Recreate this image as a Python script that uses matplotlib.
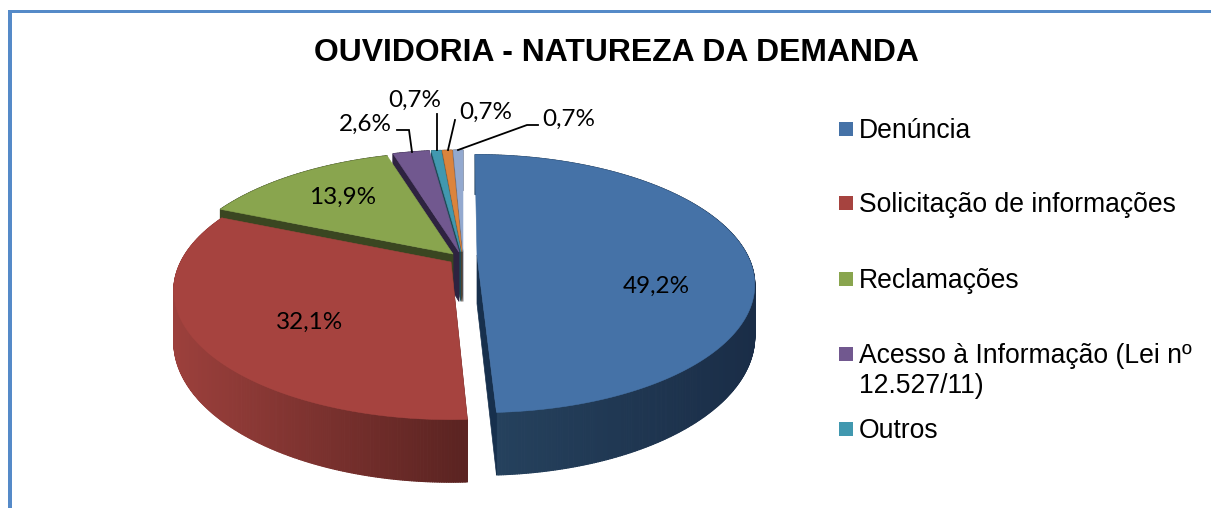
import numpy as np
import matplotlib
matplotlib.use("Agg")
import matplotlib.pyplot as plt
from matplotlib.collections import PolyCollection
from matplotlib.colors import to_rgb
from matplotlib.patches import Polygon, Rectangle

title = "OUVIDORIA - NATUREZA DA DEMANDA"
categories = [
    "Denúncia",
    "Solicitação de informações",
    "Reclamações",
    "Acesso à Informação (Lei nº\n12.527/11)",
    "Outros",
]
values = [49.2, 32.1, 13.9, 2.6, 0.7, 0.7, 0.7]

# slice look and where each piece sits, in pixels of the reference
colors = ["#4572a7", "#a6433f", "#89a54e", "#71588f", "#4198af", "#db843d", "#93a9cf"]
edge_colors = ["#17304d", "#5c2422", "#3a4621", "#2e2340", "#1e4a55", "#6b3f1c", "#46526a"]
wall_left = ["#26435f", "#9c403c", "#3a4621", "#2e2340", "#1e4a55", "#6b3f1c", "#46526a"]
wall_right = ["#1a2d47", "#5a2321", "#3a4621", "#2e2340", "#1e4a55", "#6b3f1c", "#46526a"]
apex_x = [477, 451, 453, 459, 461, 462, 463]
apex_y = [255, 262, 254, 252, 252, 252, 252]
scales = [0.955, 0.955, 0.97, 0.97, 0.97, 0.97, 0.97]
leans = [0.02, 0, 0, 0, 0, 0, 0]  # the pulled out slice tilts a little in the reference
label_pos = [(656, 286), (310, 322), (343, 197), (365, 124), (415, 100), (486, 112), (569, 119)]
leaders = [
    None,
    None,
    None,
    [(397, 130), (409, 130), (412, 152)],
    [(437, 114), (437, 150)],
    [(455, 120), (448, 150)],
    [(538, 125), (527, 125), (458, 150)],
]
legend_y = [129, 203, 279, 354, 429]

RADIUS = 283
HEIGHT = 128.4
PERSP = 0.222
DEPTH = 51


def project(theta, ax0, ay0, scale, lean):
    # circle seen in perspective, theta runs clockwise from the top
    x = np.sin(theta)
    y = np.cos(theta)
    s = 1 / (1 + PERSP * y)
    py = -scale * HEIGHT * y * s
    return ax0 + scale * RADIUS * x * s + lean * py, ay0 + py, s


def mix(c1, c2, t):
    c1, c2 = np.array(to_rgb(c1)), np.array(to_rgb(c2))
    return tuple(c1 + (c2 - c1) * t)


fig = plt.figure(figsize=(12.11, 5.08), dpi=100)
ax = fig.add_axes([0, 0, 1, 1])
ax.set_xlim(0, 1211)
ax.set_ylim(508, 0)
ax.axis("off")

# frame of the slide, only top and left are visible
ax.add_patch(Rectangle((8, 10), 1203, 3, facecolor="#558ac8", edgecolor="none"))
ax.add_patch(Rectangle((8, 10), 4, 498, facecolor="#558ac8", edgecolor="none"))

edges = np.cumsum([0] + values) / sum(values) * 2 * np.pi

# back to front so the nearer slices cover the walls behind them
for i in [6, 5, 4, 3, 2, 1, 0]:
    t = np.linspace(edges[i], edges[i + 1], max(int((edges[i + 1] - edges[i]) * 150), 4))
    x, y, s = project(t, apex_x[i], apex_y[i], scales[i], leans[i])
    depth = DEPTH * scales[i] * s
    z = 3 + (6 - i) * 2

    # outer wall in thin strips for the gradient
    quads = []
    shades = []
    for k in range(len(t) - 1):
        quads.append([(x[k], y[k]), (x[k + 1], y[k + 1]), (x[k + 1], y[k + 1] + depth[k + 1]), (x[k], y[k] + depth[k])])
        f = (x[k] - x.min()) / max(x.max() - x.min(), 1)
        shades.append(mix(wall_left[i], wall_right[i], f))
    ax.add_collection(PolyCollection(quads, facecolors=shades, edgecolors=shades, linewidths=0.8, zorder=z))

    # cut face of the slice
    apex_depth = DEPTH * scales[i]
    k = 0 if i > 0 else -1
    cut = [(apex_x[i], apex_y[i]), (x[k], y[k]), (x[k], y[k] + depth[k]), (apex_x[i], apex_y[i] + apex_depth)]
    ax.add_patch(Polygon(cut, facecolor=edge_colors[i], edgecolor=edge_colors[i], linewidth=0.5, zorder=z))

    # top face
    top = [(apex_x[i], apex_y[i])] + list(zip(x, y))
    ax.add_patch(Polygon(top, facecolor=colors[i], edgecolor=colors[i], linewidth=0.4, zorder=z + 1))

# data labels
for i, v in enumerate(values):
    ax.text(label_pos[i][0], label_pos[i][1], f"{v:.1f}".replace(".", ",") + "%", family="Lato",
            fontsize=17.5, color="black", ha="center", va="center", zorder=30)
    if leaders[i]:
        lx, ly = zip(*leaders[i])
        ax.plot(lx, ly, color="black", lw=1.3, zorder=29, solid_joinstyle="miter")

ax.text(616, 53, title, family="Liberation Sans", fontweight="bold", fontsize=22.95, ha="center", va="center")

# legend
for i, name in enumerate(categories):
    ax.add_patch(Rectangle((839, legend_y[i] - 7), 14, 14, facecolor=colors[i], edgecolor="none"))
    ax.text(859, legend_y[i] - 11, name, family="Liberation Sans", fontsize=19.1, color="black",
            ha="left", va="top", linespacing=1.2)

fig.savefig("out.png", dpi=100)
